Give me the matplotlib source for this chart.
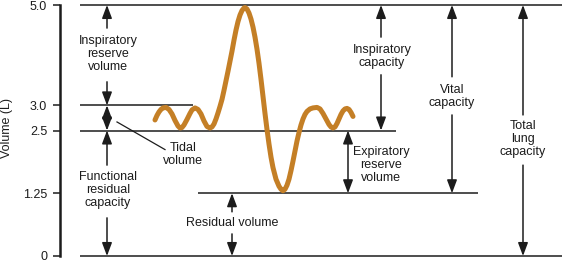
import matplotlib

matplotlib.use("Agg")
import matplotlib.pyplot as plt

# Volume levels (L) marked on the axis
levels = [0, 1.25, 2.5, 3.0, 5.0]
level_labels = ["0", "1.25", "2.5", "3.0", "5.0"]

# Spirometer trace: time (arbitrary units) and volume (L)
trace_t = [
    155, 157, 159, 161, 163, 166, 169, 172, 175, 178, 180, 182, 184, 187, 190,
    192, 195, 198, 201, 204, 207, 210, 212, 214, 216, 218, 220, 222, 224, 226,
    228, 230, 232, 234, 236, 238, 240, 242, 244, 245, 247, 249, 251, 253, 255,
    257, 259, 261, 263, 265, 267, 269, 271, 273, 276, 279, 281, 283, 285, 287, 289,
    291, 293, 295, 297, 299, 301, 303, 305, 307, 310, 313, 317, 320, 323, 326,
    329, 331, 333, 335, 337, 339, 341, 343, 345, 347, 349, 351, 353,
]
trace_v = [
    2.71, 2.80, 2.87, 2.92, 2.95, 2.96, 2.92, 2.83, 2.70, 2.59, 2.55, 2.56, 2.61, 2.72, 2.84,
    2.91, 2.95, 2.92, 2.83, 2.69, 2.58, 2.55, 2.57, 2.63, 2.73, 2.85, 2.98, 3.12, 3.30, 3.49,
    3.68, 3.88, 4.08, 4.30, 4.50, 4.67, 4.80, 4.89, 4.94, 4.95, 4.92, 4.84, 4.72, 4.56, 4.36,
    4.12, 3.84, 3.52, 3.18, 2.84, 2.52, 2.23, 1.97, 1.76, 1.53, 1.39, 1.33, 1.30, 1.33, 1.41, 1.53,
    1.70, 1.89, 2.09, 2.29, 2.46, 2.61, 2.73, 2.82, 2.88, 2.93, 2.95, 2.96, 2.93, 2.84, 2.73,
    2.62, 2.57, 2.55, 2.57, 2.64, 2.73, 2.82, 2.89, 2.93, 2.94, 2.92, 2.86, 2.78,
]

# Horizontal reference lines: level and extent along the time axis
ref_levels = [5.0, 3.0, 2.5, 1.25, 0]
ref_start = [80, 80, 80, 198, 80]
ref_end = [562, 193, 396, 478, 562]

INK = "#1c1c1c"
TRACE = "#c47f26"
FS = 9


def arrow(ax, x, tail, tip, both=False):
    style = "<|-|>" if both else "-|>"
    ax.annotate(
        "",
        xy=(x, tip),
        xytext=(x, tail),
        arrowprops=dict(
            arrowstyle=f"{style},head_length=0.8,head_width=0.3",
            color=INK,
            lw=1.1,
            shrinkA=0,
            shrinkB=0,
            mutation_scale=10,
        ),
        annotation_clip=False,
    )


def label(ax, x, y, text):
    ax.text(x, y, text, ha="center", va="center", multialignment="center",
            fontsize=FS, color=INK, linespacing=1.1)


def main():
    plt.rcParams["font.family"] = ["Liberation Sans", "DejaVu Sans"]

    fig = plt.figure(figsize=(5.63, 2.62), dpi=100)
    ax = fig.add_axes([60 / 563, 6 / 262, 503 / 563, 251 / 262])
    ax.set_xlim(60, 563)
    ax.set_ylim(0, 5)

    for s in ("top", "right", "bottom"):
        ax.spines[s].set_visible(False)
    ax.spines["left"].set_linewidth(1.8)
    ax.spines["left"].set_color(INK)
    ax.set_xticks([])
    ax.set_yticks(levels)
    ax.set_yticklabels(level_labels)
    ax.tick_params(axis="y", length=5, width=1.1, color=INK, pad=4.3,
                   labelsize=FS, labelcolor=INK)
    ax.set_ylabel("Volume (L)", fontsize=FS, color=INK)
    ax.yaxis.set_label_coords(-0.093, 0.51)

    ax.hlines(ref_levels, ref_start, ref_end, color=INK, lw=1.1, clip_on=False)

    ax.plot(trace_t, trace_v, color=TRACE, lw=3.6, solid_capstyle="round",
            solid_joinstyle="round", clip_on=False, zorder=3)

    # Inspiratory reserve volume
    arrow(ax, 107, 4.54, 5.0)
    label(ax, 108, 4.03, "Inspiratory\nreserve\nvolume")
    arrow(ax, 107, 3.47, 3.0)

    # Tidal volume
    arrow(ax, 107, 2.5, 3.0, both=True)
    ax.plot([117, 165], [2.67, 2.12], color=INK, lw=0.9)
    label(ax, 183, 2.03, "Tidal\nvolume")

    # Functional residual capacity
    arrow(ax, 107, 1.81, 2.5)
    label(ax, 108, 1.31, "Functional\nresidual\ncapacity")
    arrow(ax, 107, 0.76, 0)

    # Residual volume
    arrow(ax, 232, 0.88, 1.25)
    label(ax, 232, 0.66, "Residual volume")
    arrow(ax, 232, 0.44, 0)

    # Expiratory reserve volume
    arrow(ax, 348, 1.25, 2.5, both=True)
    label(ax, 381, 1.82, "Expiratory\nreserve\nvolume")

    # Inspiratory capacity
    arrow(ax, 381, 4.36, 5.0)
    label(ax, 382, 3.97, "Inspiratory\ncapacity")
    arrow(ax, 381, 3.61, 2.5)

    # Vital capacity
    arrow(ax, 452, 3.57, 5.0)
    label(ax, 452, 3.18, "Vital\ncapacity")
    arrow(ax, 452, 2.81, 1.25)

    # Total lung capacity
    arrow(ax, 523, 2.81, 5.0)
    label(ax, 523, 2.33, "Total\nlung\ncapacity")
    arrow(ax, 523, 1.81, 0)

    fig.savefig("out.png", dpi=100)


if __name__ == "__main__":
    main()
